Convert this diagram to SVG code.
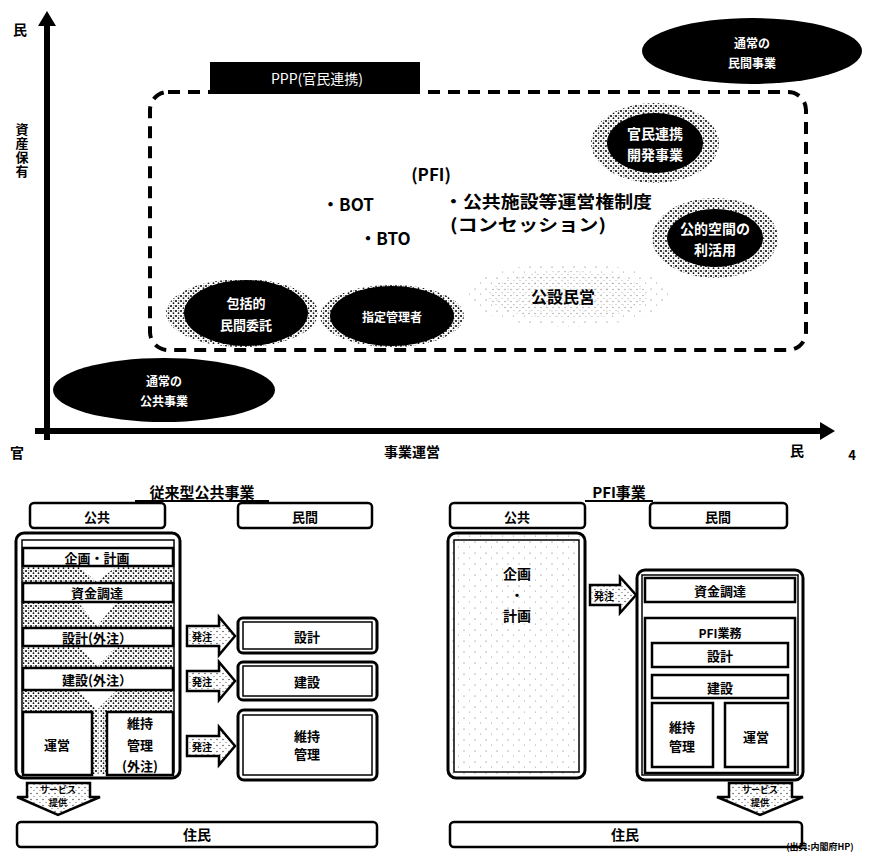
<svg xmlns="http://www.w3.org/2000/svg" width="875" height="863" viewBox="0 0 875 863">
<defs>
<pattern id="spk" width="11" height="11" patternUnits="userSpaceOnUse"><rect width="11" height="11" fill="#fff"/><circle cx="2" cy="3" r="0.6" fill="#666"/><circle cx="7.5" cy="8" r="0.5" fill="#888"/></pattern>
<pattern id="spkM" width="6" height="6" patternUnits="userSpaceOnUse"><rect width="6" height="6" fill="#fff"/><circle cx="1" cy="1.5" r="0.7" fill="#333"/><circle cx="4" cy="4.5" r="0.6" fill="#555"/></pattern>
<pattern id="spkD" width="5" height="5" patternUnits="userSpaceOnUse"><rect width="5" height="5" fill="#fff"/><circle cx="1" cy="1" r="1" fill="#000"/><circle cx="3.5" cy="3.2" r="0.9" fill="#111"/><circle cx="3.8" cy="0.8" r="0.5" fill="#333"/></pattern>
<style>
text{font-family:"Noto Sans CJK JP","Noto Sans CJK SC",sans-serif;font-weight:bold;text-anchor:middle;dominant-baseline:central}
.w{fill:#fff}
.bar{fill:#fff;stroke:#000;stroke-width:2.5}
.frame{fill:none;stroke:#000;stroke-width:3}
.inner{fill:none;stroke:#000;stroke-width:1.5}
.lab{fill:#fff;stroke:#000;stroke-width:2.5}
.t13{font-size:13px}
.t14{font-size:14px}
.t12{font-size:12px}
.t10{font-size:10px}
.t9{font-size:9px}
.band{fill:url(#spkD);stroke:none}
.arr{fill:url(#spkM);stroke:#000;stroke-width:2.5;stroke-linejoin:miter}
</style>
</defs>
<rect width="875" height="863" fill="#fff"/>

<g id="connectors">
<line x1="47" y1="440" x2="47" y2="22" stroke="#000" stroke-width="6"/>
<polygon points="47,11 56,26 38,26" fill="#000"/>
<line x1="35" y1="431" x2="822" y2="431" stroke="#000" stroke-width="6"/>
<polygon points="835,431 820,422 820,440" fill="#000"/>
<rect x="150" y="92" width="656" height="258" rx="18" fill="none" stroke="#000" stroke-width="4" stroke-dasharray="12 8"/>
</g>

<g id="axis-labels">
<text x="20" y="29" class="t14">民</text>
<text x="22" y="151" style="font-size:13px;writing-mode:vertical-rl;letter-spacing:1px">資産保有</text>
<text x="17" y="452" class="t14">官</text>
<text x="412" y="451" class="t14">事業運営</text>
<text x="797" y="450" class="t14">民</text>
<text x="852" y="454" class="t13">4</text>
</g>

<g id="ppp-label">
<rect x="210" y="62" width="210" height="32" fill="#000"/>
<text x="317" y="78" class="w t14" style="font-weight:normal">PPP(官民連携)</text>
</g>

<g id="node-private">
<ellipse cx="752" cy="51" rx="110" ry="33" fill="#000"/>
<text x="752" y="42" class="w t12">通常の</text>
<text x="752" y="62" class="w t12">民間事業</text>
</g>

<g id="node-public">
<ellipse cx="164" cy="390" rx="111" ry="32" fill="#000"/>
<text x="164" y="380" class="w t12">通常の</text>
<text x="164" y="400" class="w t12">公共事業</text>
</g>

<g id="node-kanmin">
<ellipse cx="655" cy="143" rx="64" ry="40" fill="url(#spkD)"/>
<ellipse cx="655" cy="143" rx="48" ry="30" fill="#000"/>
<text x="655" y="133" class="w t14">官民連携</text>
<text x="655" y="154" class="w t14">開発事業</text>
</g>

<g id="node-koteki">
<ellipse cx="715" cy="238" rx="63" ry="40" fill="url(#spkD)"/>
<ellipse cx="715" cy="238" rx="48" ry="29" fill="#000"/>
<text x="715" y="228" class="w t14">公的空間の</text>
<text x="715" y="249" class="w t14">利活用</text>
</g>

<g id="node-kosetsu">
<ellipse cx="568" cy="295" rx="101" ry="32" fill="url(#spk)"/>
<ellipse cx="568" cy="295" rx="80" ry="24" fill="url(#spkM)" opacity="0.5"/>
<text x="563" y="296" style="font-size:16px">公設民営</text>
</g>

<g id="node-hokatsu">
<ellipse cx="242" cy="313" rx="76" ry="34" fill="url(#spkD)"/>
<ellipse cx="246" cy="313" rx="62" ry="33" fill="#000"/>
<text x="246" y="302" class="w t13">包括的</text>
<text x="246" y="324" class="w t13">民間委託</text>
</g>

<g id="node-shitei">
<ellipse cx="392" cy="316" rx="72" ry="31" fill="url(#spkD)"/>
<ellipse cx="392" cy="316" rx="62" ry="30" fill="#000"/>
<text x="392" y="316" class="w t12">指定管理者</text>
</g>

<g id="node-pfi">
<text x="431" y="173" style="font-size:17px">(PFI)</text>
<text x="348" y="203" style="font-size:17px">・BOT</text>
<text x="385" y="237" style="font-size:17px">・BTO</text>
<text x="548" y="200" style="font-size:17px" textLength="208" lengthAdjust="spacingAndGlyphs">・公共施設等運営権制度</text>
<text x="528" y="223" style="font-size:17px" textLength="156" lengthAdjust="spacingAndGlyphs">(コンセッション)</text>
</g>

<g id="title-conv">
<text x="202" y="491" style="font-size:15px">従来型公共事業</text>
<line x1="135" y1="501" x2="269" y2="501" stroke="#000" stroke-width="2"/>
</g>
<g id="conv-public-head">
<rect x="30" y="503" width="135" height="25" rx="4" class="lab"/>
<text x="97" y="516" class="t13">公共</text>
</g>
<g id="conv-private-head">
<rect x="238" y="503" width="134" height="25" rx="4" class="lab"/>
<text x="305" y="516" class="t13">民間</text>
</g>

<g id="conv-public-column">
<rect x="16" y="533" width="164" height="245" rx="8" class="frame"/>
<rect x="22" y="540" width="152" height="232" class="inner"/>
<rect x="23" y="566" width="150" height="17" class="band"/>
<polygon points="78,566 117,566 97,582" fill="#fff"/>
<rect x="23" y="602" width="150" height="26" class="band"/>
<polygon points="78,602 117,602 97,626" fill="#fff"/>
<rect x="23" y="646" width="150" height="22" class="band"/>
<polygon points="78,646 117,646 97,666" fill="#fff"/>
<rect x="23" y="690" width="150" height="22" class="band"/>
<polygon points="78,690 117,690 97,710" fill="#fff"/>
<rect x="92" y="712" width="15" height="63" class="band"/>
<line x1="99.5" y1="710" x2="99.5" y2="775" stroke="#fff" stroke-width="2"/>
</g>
<g id="conv-kikaku"><rect x="23" y="548" width="150" height="18" class="bar"/><text x="97" y="557" class="t13">企画・計画</text></g>
<g id="conv-shikin"><rect x="23" y="583" width="150" height="19" class="bar"/><text x="97" y="592" class="t13">資金調達</text></g>
<g id="conv-sekkei"><rect x="23" y="628" width="150" height="18" class="bar"/><text x="97" y="637" class="t13">設計(外注）</text></g>
<g id="conv-kensetsu"><rect x="23" y="668" width="150" height="22" class="bar"/><text x="97" y="679" class="t13">建設(外注）</text></g>
<g id="conv-unei"><rect x="23" y="712" width="69" height="63" class="bar"/><text x="57" y="744" class="t13">運営</text></g>
<g id="conv-iji"><rect x="107" y="712" width="66" height="63" class="bar"/>
<text x="140" y="722" class="t13">維持</text><text x="140" y="744" class="t13">管理</text><text x="140" y="765" class="t13">(外注)</text></g>

<g id="conv-arrows">
<polygon points="187,626 219,626 219,617 235,636 219,655 219,646 187,646" class="arr"/>
<text x="202" y="636" class="t10">発注</text>
<polygon points="187,671 219,671 219,662 235,681 219,700 219,691 187,691" class="arr"/>
<text x="202" y="681" class="t10">発注</text>
<polygon points="187,736 219,736 219,727 235,746 219,765 219,756 187,756" class="arr"/>
<text x="202" y="746" class="t10">発注</text>
</g>

<g id="conv-p-sekkei"><rect x="238" y="618" width="139" height="35" rx="5" class="frame"/><rect x="243" y="622" width="129" height="27" class="inner"/><text x="307" y="636" class="t13">設計</text></g>
<g id="conv-p-kensetsu"><rect x="238" y="662" width="139" height="38" rx="5" class="frame"/><rect x="243" y="666" width="129" height="30" class="inner"/><text x="307" y="681" class="t13">建設</text></g>
<g id="conv-p-iji"><rect x="238" y="710" width="139" height="70" rx="6" class="frame"/><rect x="243" y="715" width="129" height="60" class="inner"/><text x="307" y="735" class="t13">維持</text><text x="307" y="753" class="t13">管理</text></g>

<g id="conv-service">
<polygon points="27,783 90,783 90,797 100,797 58,815 17,797 27,797" class="arr"/>
<text x="58" y="789" class="t9">サービス</text>
<text x="58" y="802" class="t9">提供</text>
</g>
<g id="conv-jumin"><rect x="17" y="822" width="360" height="25" rx="4" class="lab"/><text x="197" y="834" class="t14">住民</text></g>

<g id="title-pfi">
<text x="619" y="491" style="font-size:15px">PFI事業</text>
<line x1="585" y1="501" x2="653" y2="501" stroke="#000" stroke-width="2"/>
</g>
<g id="pfi-public-head"><rect x="450" y="503" width="135" height="25" rx="4" class="lab"/><text x="517" y="516" class="t13">公共</text></g>
<g id="pfi-private-head"><rect x="650" y="503" width="137" height="25" rx="4" class="lab"/><text x="718" y="516" class="t13">民間</text></g>

<g id="pfi-public">
<rect x="448" y="533" width="137" height="245" rx="8" fill="url(#spk)" stroke="#000" stroke-width="3"/>
<rect x="454" y="540" width="125" height="232" class="inner"/>
<text x="517" y="573" class="t14">企画</text>
<text x="517" y="594" class="t13">・</text>
<text x="517" y="615" class="t14">計画</text>
</g>

<g id="pfi-arrow">
<polygon points="590,585 620,585 620,577 636,595 620,613 620,605 590,605" class="arr"/>
<text x="604" y="595" class="t10">発注</text>
</g>

<g id="pfi-private">
<rect x="637" y="570" width="166" height="210" rx="8" class="frame" fill="#fff"/>
<rect x="642" y="575" width="156" height="200" class="inner"/>
</g>
<g id="pfi-shikin"><rect x="645" y="578" width="150" height="24" class="bar"/><text x="720" y="590" class="t13">資金調達</text></g>
<g id="pfi-gyomu"><rect x="645" y="618" width="150" height="155" class="bar"/><text x="720" y="632" class="t12">PFI業務</text></g>
<g id="pfi-sekkei"><rect x="652" y="643" width="136" height="24" class="bar"/><text x="720" y="655" class="t13">設計</text></g>
<g id="pfi-kensetsu"><rect x="652" y="675" width="136" height="23" class="bar"/><text x="720" y="687" class="t13">建設</text></g>
<g id="pfi-iji"><rect x="652" y="703" width="61" height="64" class="bar"/><text x="682" y="726" class="t13">維持</text><text x="682" y="745" class="t13">管理</text></g>
<g id="pfi-unei"><rect x="725" y="703" width="63" height="64" class="bar"/><text x="756" y="736" class="t13">運営</text></g>

<g id="pfi-service">
<polygon points="729,783 792,783 792,797 803,797 760,815 717,797 729,797" class="arr"/>
<text x="760" y="789" class="t9">サービス</text>
<text x="760" y="802" class="t9">提供</text>
</g>
<g id="pfi-jumin"><rect x="450" y="822" width="352" height="25" rx="4" class="lab"/><text x="625" y="834" class="t14">住民</text></g>

<g id="source"><text x="820" y="846" class="t9">(出典:内閣府HP)</text></g>
</svg>
